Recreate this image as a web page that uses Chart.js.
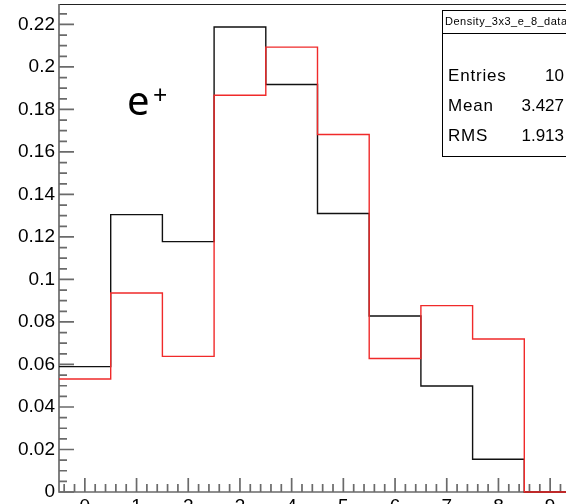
<!DOCTYPE html>
<html><head><meta charset="utf-8">
<style>
html,body{margin:0;padding:0;overflow:hidden;background:#fff;width:566px;height:504px}
#wrap{position:absolute;left:0;top:0;width:640px;height:540px}
</style>
<script src="https://cdn.jsdelivr.net/npm/chart.js@4/dist/chart.umd.min.js"></script>
</head><body>
<div id="wrap"><canvas id="c" width="640" height="540"></canvas></div>
<script>
// ---- data ----
const binCenters  = [0, 1, 2, 3, 4, 5, 6, 7, 8, 9];
const blackValues = [0.0590, 0.1305, 0.1178, 0.2188, 0.1917, 0.1310, 0.0828, 0.0499, 0.0154, 0];
const redValues   = [0.0532, 0.0936, 0.0638, 0.1867, 0.2093, 0.1682, 0.0628, 0.0877, 0.0720, 0];
const xTickValues = [0, 1, 2, 3, 4, 5, 6, 7, 8, 9];
const yTickValues = [0, 0.02, 0.04, 0.06, 0.08, 0.1, 0.12, 0.14, 0.16, 0.18, 0.2, 0.22];
const statsTitle  = 'Density_3x3_e_8_data';
const statsLabels = ['Entries', 'Mean', 'RMS'];
const statsValues = ['10', '3.427', '1.913'];
const particleLabel = 'e';
const particleSup = '+';

function toSteps(vals) {
  const pts = vals.map((v, i) => ({ x: binCenters[i] - 0.5, y: v }));
  pts.push({ x: binCenters[binCenters.length - 1] + 0.5, y: vals[vals.length - 1] });
  return pts;
}

const framePlugin = {
  id: 'frame',
  beforeDatasetsDraw(chart) {
    const { ctx, chartArea: a, scales: { x, y } } = chart;
    ctx.save();
    // top frame line
    ctx.strokeStyle = '#222'; ctx.lineWidth = 1.2;
    ctx.beginPath(); ctx.moveTo(a.left, a.top + 0.5); ctx.lineTo(chart.width, a.top + 0.5); ctx.stroke();
    // axes
    ctx.strokeStyle = '#6a6a6a'; ctx.lineWidth = 1.7;
    ctx.beginPath(); ctx.moveTo(a.left, a.top); ctx.lineTo(a.left, a.bottom); ctx.lineTo(chart.width, a.bottom); ctx.stroke();
    // y ticks (inward)
    ctx.beginPath();
    for (let k = 0; k <= 46; k++) {
      const v = k * 0.005;
      if (v > y.max) break;
      const py = y.getPixelForValue(v);
      const len = (k % 4 === 0) ? 15 : 8;
      ctx.moveTo(a.left, py); ctx.lineTo(a.left + len, py);
    }
    // x ticks (inward)
    for (let k = -2; k <= 47; k++) {
      const v = k * 0.2;
      const px = x.getPixelForValue(v);
      const len = (k % 5 === 0) ? 14 : 8;
      ctx.moveTo(px, a.bottom); ctx.lineTo(px, a.bottom - len);
    }
    ctx.stroke();
    ctx.restore();
  },
  afterDraw(chart) {
    const { ctx } = chart;
    ctx.save();
    // particle label
    ctx.fillStyle = '#000';
    ctx.textBaseline = 'alphabetic';
    ctx.font = '40px "Noto Sans"';
    ctx.fillText(particleLabel, 127, 115);
    ctx.font = '25px "Noto Sans"';
    ctx.fillText(particleSup, 153, 104);
    // stats box
    const bx = 442.5, by = 10.5, bw = 160, bh = 146, sep = 33.5;
    ctx.fillStyle = '#fff';
    ctx.fillRect(bx, by, bw, bh);
    ctx.strokeStyle = '#000'; ctx.lineWidth = 1;
    ctx.strokeRect(bx, by, bw, bh);
    ctx.beginPath(); ctx.moveTo(bx, sep); ctx.lineTo(bx + bw, sep); ctx.stroke();
    ctx.fillStyle = '#000';
    ctx.textBaseline = 'middle';
    ctx.font = '11px "Liberation Sans"';
    ctx.letterSpacing = '0.5px';
    ctx.textAlign = 'left';
    ctx.fillText(statsTitle, 445, 22);
    ctx.font = '17px "Liberation Sans"';
    const rowsY = [76, 106, 136];
    statsLabels.forEach((l, i) => {
      ctx.letterSpacing = '0.8px';
      ctx.textAlign = 'left';
      ctx.fillText(l, 448, rowsY[i]);
      ctx.letterSpacing = '0px';
      ctx.textAlign = 'right';
      ctx.fillText(statsValues[i], 564, rowsY[i]);
    });
    ctx.restore();
  }
};

new Chart(document.getElementById('c'), {
  type: 'line',
  data: {
    datasets: [
      { data: toSteps(redValues), borderColor: '#f02a2a', borderWidth: 1.4, stepped: 'before', pointRadius: 0, fill: false, clip: 6 },
      { data: toSteps(blackValues), borderColor: '#111', borderWidth: 1.4, stepped: 'before', pointRadius: 0, fill: false, clip: 6 }
    ]
  },
  options: {
    responsive: false, animation: false, devicePixelRatio: 1,
    layout: { padding: { top: 4, left: 0, right: 64, bottom: 0 } },
    plugins: { legend: { display: false }, tooltip: { enabled: false } },
    scales: {
      x: {
        type: 'linear', min: -0.5, max: 9.5,
        grid: { display: false, drawTicks: false }, border: { display: false },
        ticks: { color: '#000', padding: 3, font: { family: 'Liberation Sans', size: 19 }, maxRotation: 0, callback: v => String(v) },
        afterBuildTicks: s => { s.ticks = xTickValues.map(v => ({ value: v })); },
        afterFit: s => { s.height = 48; s.paddingLeft = 0; s.paddingRight = 0; }
      },
      y: {
        type: 'linear', min: 0, max: 0.2296,
        grid: { display: false, drawTicks: false }, border: { display: false },
        ticks: { color: '#000', padding: 4, font: { family: 'Liberation Sans', size: 19 }, callback: v => String(+v.toFixed(3)) },
        afterBuildTicks: s => { s.ticks = yTickValues.map(v => ({ value: v })); },
        afterFit: s => { s.width = 59; s.paddingTop = 0; s.paddingBottom = 0; }
      }
    }
  },
  plugins: [framePlugin]
});
</script>
</body></html>
